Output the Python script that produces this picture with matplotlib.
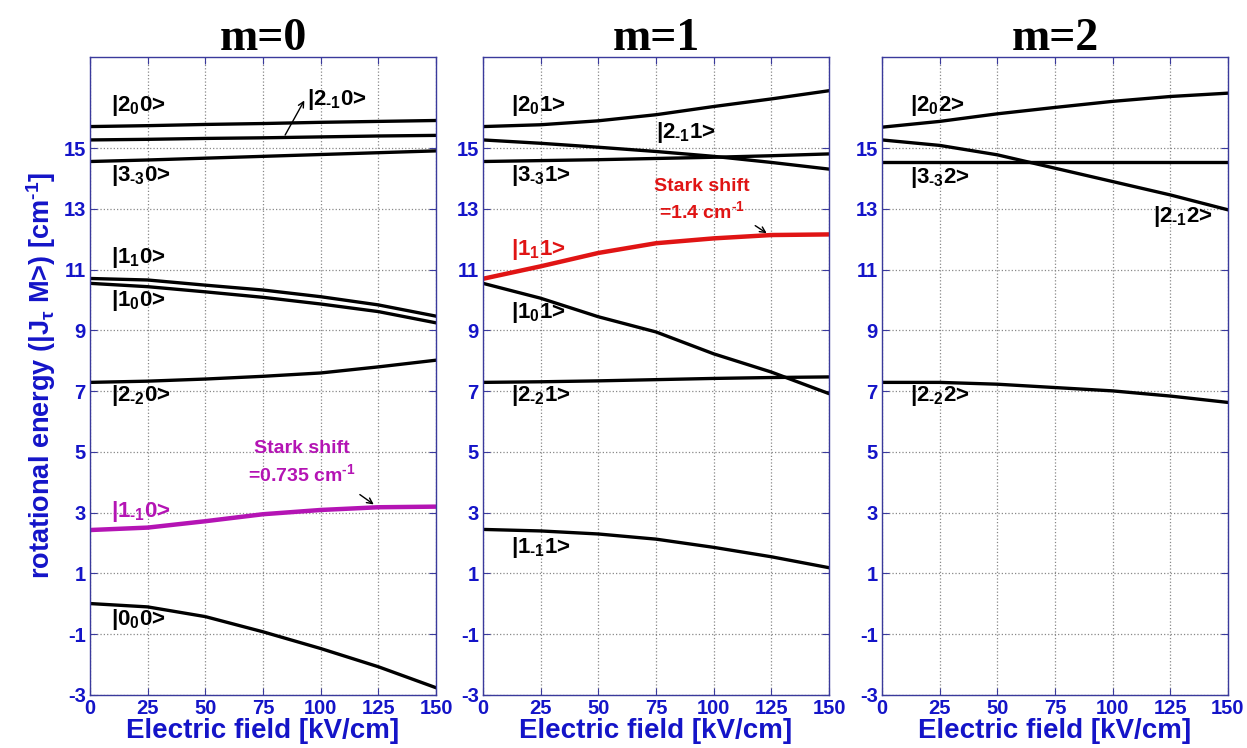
import matplotlib.pyplot as plt
import numpy as np

plt.rcParams['font.family'] = ['Liberation Sans', 'DejaVu Sans']
plt.rcParams['font.weight'] = 'bold'
plt.rcParams['mathtext.fontset'] = 'custom'
plt.rcParams['mathtext.rm'] = 'Liberation Sans:bold'
plt.rcParams['mathtext.bf'] = 'Liberation Sans:bold'
plt.rcParams['mathtext.it'] = 'Liberation Sans:bold:italic'
plt.rcParams['mathtext.default'] = 'rm'
plt.rcParams['axes.unicode_minus'] = False

field = [0, 25, 50, 75, 100, 125, 150]

# m = 0 levels
m0_2_0 = [15.71, 15.74, 15.78, 15.81, 15.85, 15.88, 15.91]
m0_2_m1 = [15.27, 15.29, 15.32, 15.34, 15.37, 15.40, 15.42]
m0_3_m3 = [14.56, 14.61, 14.67, 14.73, 14.79, 14.85, 14.91]
m0_1_1 = [10.71, 10.66, 10.49, 10.33, 10.11, 9.84, 9.47]
m0_1_0 = [10.55, 10.44, 10.27, 10.09, 9.87, 9.62, 9.25]
m0_2_m2 = [7.29, 7.33, 7.40, 7.49, 7.60, 7.80, 8.02]
m0_1_m1 = [2.43, 2.51, 2.72, 2.95, 3.09, 3.18, 3.20]
m0_0_0 = [0.01, -0.10, -0.42, -0.92, -1.47, -2.07, -2.76]

# m = 1 levels
m1_2_0 = [15.71, 15.77, 15.90, 16.10, 16.37, 16.62, 16.89]
m1_2_m1 = [15.27, 15.16, 15.03, 14.89, 14.73, 14.53, 14.31]
m1_3_m3 = [14.56, 14.59, 14.62, 14.66, 14.70, 14.75, 14.81]
m1_1_1 = [10.70, 11.11, 11.55, 11.87, 12.03, 12.14, 12.16]
m1_1_0 = [10.55, 10.06, 9.45, 8.95, 8.23, 7.63, 6.92]
m1_2_m2 = [7.29, 7.31, 7.34, 7.38, 7.42, 7.45, 7.47]
m1_1_m1 = [2.45, 2.40, 2.30, 2.13, 1.86, 1.55, 1.19]

# m = 2 levels
m2_2_0 = [15.69, 15.88, 16.13, 16.34, 16.54, 16.70, 16.81]
m2_3_m3 = [14.56, 14.56, 14.56, 14.56, 14.56, 14.56, 14.56]
m2_2_m1 = [15.27, 15.09, 14.78, 14.34, 13.90, 13.46, 12.97]
m2_2_m2 = [7.29, 7.29, 7.23, 7.12, 7.01, 6.84, 6.63]

stark_m0 = 0.735
stark_m1 = 1.4

blue = '#1414c8'
frame = '#3a3a9c'
magenta = '#b414b4'
red = '#e01414'


def ket(j, tau, m):
    # |J_tau M> label, hyphen instead of the math minus in the subscript
    t = str(tau).replace('-', r'\text{-}')
    return r'|%d$_{%s}$%d>' % (j, t, m)


fig = plt.figure(figsize=(12.47, 7.48), dpi=100)
lefts = [90, 483, 882]
axes = []
for i, l in enumerate(lefts):
    ax = fig.add_axes([l / 1247, 53 / 748, 346 / 1247, 638 / 748])
    ax.set_xlim(0, 150)
    ax.set_ylim(-3, 18)
    ax.set_xticks(field)
    ax.set_yticks(np.arange(-3, 16, 2))
    ax.grid(True, linestyle=':', color='#888888', linewidth=0.9)
    ax.tick_params(direction='in', top=True, right=True, colors=frame,
                   labelcolor=blue, labelsize=14.5, length=5, pad=3)
    for lab in ax.get_xticklabels() + ax.get_yticklabels():
        lab.set_fontweight('bold')
    for sp in ax.spines.values():
        sp.set_color(frame)
        sp.set_linewidth(1.0)
    ax.set_xlabel('Electric field [kV/cm]', color=blue, fontsize=20,
                  fontweight='bold', labelpad=0)
    ax.set_title('m=%d' % i, family='Liberation Serif', fontsize=33,
                 fontweight='bold', pad=5)
    axes.append(ax)

axes[0].set_ylabel(r'rotational energy (|J$_\tau$ M>) [cm$^{\text{-}1}$]',
                   color=blue, fontsize=19.5, fontweight='bold', labelpad=4)

lw = 2.4
fs = 16
lkw = dict(fontsize=fs, fontweight='bold', color='black', va='center')

# m = 0
ax = axes[0]
for e in [m0_2_0, m0_2_m1, m0_3_m3, m0_1_1, m0_1_0, m0_2_m2, m0_0_0]:
    ax.plot(field, e, color='black', lw=lw)
ax.plot(field, m0_1_m1, color=magenta, lw=3.2)
ax.text(9, 16.4, ket(2, 0, 0), **lkw)
ax.text(94, 16.6, ket(2, -1, 0), **lkw)
ax.annotate('', xy=(93.5, 16.65), xytext=(84, 15.35),
            arrowprops=dict(arrowstyle='->', color='black', lw=1))
ax.text(9, 14.1, ket(3, -3, 0), **lkw)
ax.text(9, 11.4, ket(1, 1, 0), **lkw)
ax.text(9, 10.0, ket(1, 0, 0), **lkw)
ax.text(9, 6.85, ket(2, -2, 0), **lkw)
ax.text(9, 3.05, ket(1, -1, 0), va='center', fontsize=fs, fontweight='bold',
        color=magenta)
ax.text(9, -0.5, ket(0, 0, 0), **lkw)
ax.text(92, 4.65, 'Stark shift\n=%.3f cm$^{\\text{-}1}$' % stark_m0,
        ha='center', va='center', fontsize=14, fontweight='bold',
        color=magenta, linespacing=1.3)
ax.annotate('', xy=(124, 3.22), xytext=(116, 3.65),
            arrowprops=dict(arrowstyle='->', color='black', lw=1))

# m = 1
ax = axes[1]
for e in [m1_2_0, m1_2_m1, m1_3_m3, m1_1_0, m1_2_m2, m1_1_m1]:
    ax.plot(field, e, color='black', lw=lw)
ax.plot(field, m1_1_1, color=red, lw=3.2)
ax.text(12, 16.4, ket(2, 0, 1), **lkw)
ax.text(75, 15.5, ket(2, -1, 1), **lkw)
ax.text(12, 14.1, ket(3, -3, 1), **lkw)
ax.text(12, 11.65, ket(1, 1, 1), va='center', fontsize=fs, fontweight='bold',
        color=red)
ax.text(12, 9.6, ket(1, 0, 1), **lkw)
ax.text(12, 6.85, ket(2, -2, 1), **lkw)
ax.text(12, 1.85, ket(1, -1, 1), **lkw)
ax.text(95, 13.3, 'Stark shift\n=%.1f cm$^{\\text{-}1}$' % stark_m1,
        ha='center', va='center', fontsize=14, fontweight='bold', color=red,
        linespacing=1.3)
ax.annotate('', xy=(124, 12.15), xytext=(117, 12.5),
            arrowprops=dict(arrowstyle='->', color='black', lw=1))

# m = 2
ax = axes[2]
for e in [m2_2_0, m2_3_m3, m2_2_m1, m2_2_m2]:
    ax.plot(field, e, color='black', lw=lw)
ax.text(12, 16.4, ket(2, 0, 2), **lkw)
ax.text(12, 14.05, ket(3, -3, 2), **lkw)
ax.text(117.5, 12.75, ket(2, -1, 2), **lkw)
ax.text(12, 6.85, ket(2, -2, 2), **lkw)

fig.savefig('out.png', dpi=100)
